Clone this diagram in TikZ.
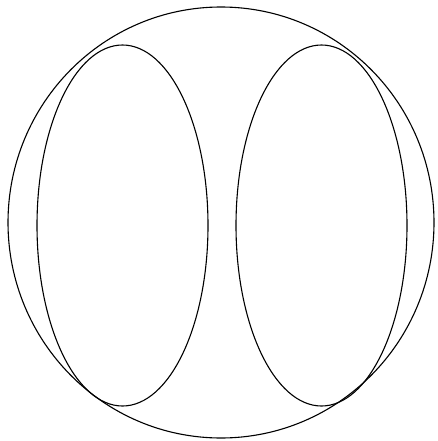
\documentclass[tikz,border=0pt]{standalone}
\usepackage{tikz}

\begin{document}
\begin{tikzpicture}[x=1pt,y=-1pt,line width=1.1pt]
  \useasboundingbox (0,0) rectangle (437,441);
  \coordinate (O) at (221,222.5);
  \coordinate (L) at (122.5,225.5);
  \coordinate (R) at (321.5,225.5);
  \draw (O) ellipse[x radius=213pt,y radius=215.5pt];
  \draw (L) ellipse[x radius=85.5pt,y radius=180.5pt];
  \draw (R) ellipse[x radius=85.5pt,y radius=180.5pt];
\end{tikzpicture}
\end{document}
